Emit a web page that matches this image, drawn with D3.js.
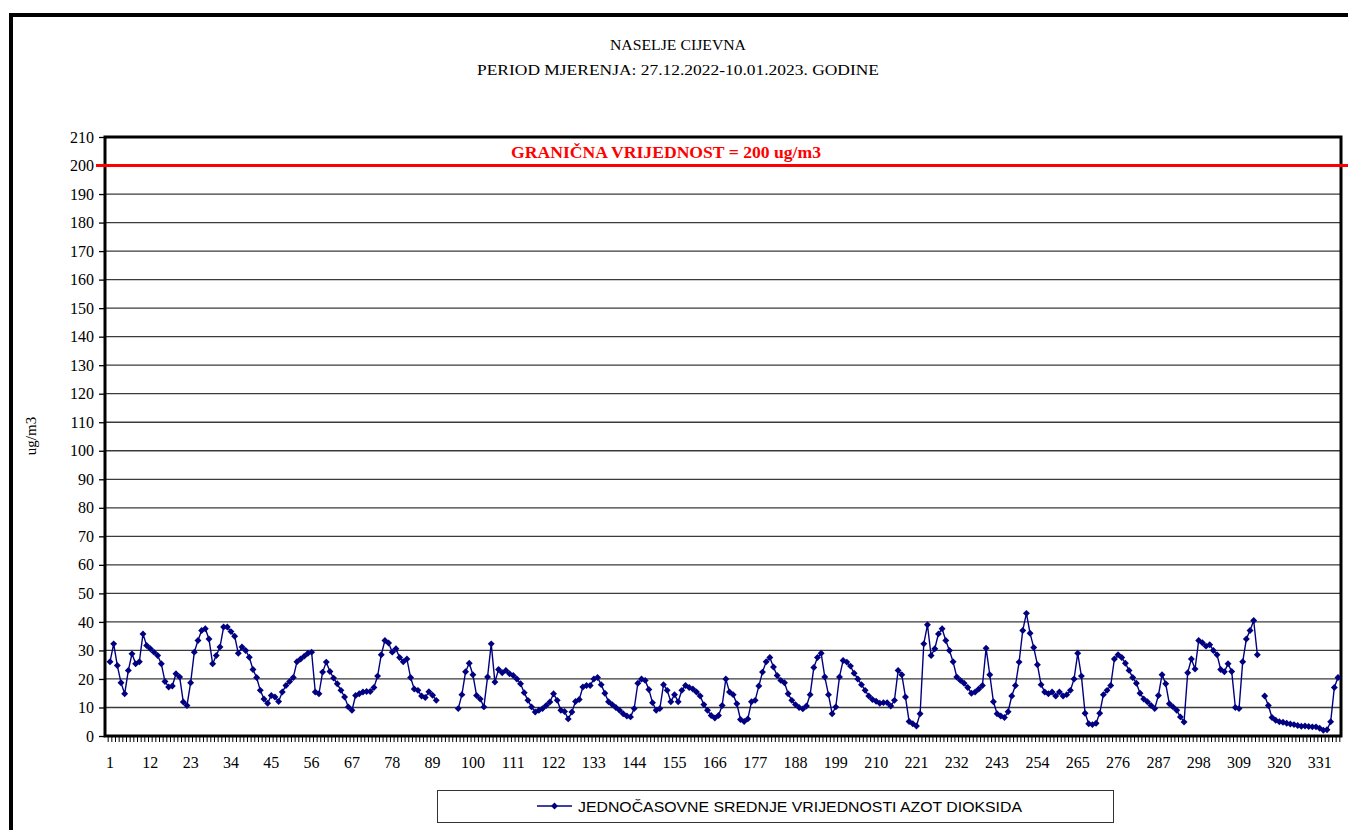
<!DOCTYPE html>
<html><head><meta charset="utf-8">
<script src="https://cdn.jsdelivr.net/npm/d3@7"></script>
<style>body{margin:0;background:#fff;} svg{display:block;}</style>
</head><body>
<svg id="c" width="1348" height="830"></svg>
<script>
// ---------- data ----------
const titleLines = ["NASELJE CIJEVNA", "PERIOD MJERENJA: 27.12.2022-10.01.2023. GODINE"];
const limitLabel = "GRANIČNA VRIJEDNOST = 200 ug/m3";
const limitValue = 200;
const yAxisTitle = "ug/m3";
const seriesName = "JEDNOČASOVNE SREDNJE VRIJEDNOSTI AZOT DIOKSIDA";
const yTickValues = [0,10,20,30,40,50,60,70,80,90,100,110,120,130,140,150,160,170,180,190,200,210];
const xTickLabels = [1,12,23,34,45,56,67,78,89,100,111,122,133,144,155,166,177,188,199,210,221,232,243,254,265,276,287,298,309,320,331];
const no2Values = [
 26,32.3,24.7,18.7,14.8,23,28.8,25.3,26,35.8,31.7,30.6,29.4,28.2,25.3,19.1,17.2,17.5,21.8,20.7,11.9,10.7,18.7,29.4,33.5,37,37.6,34,25.3,28.2,31.2,38.2,
 38.2,36.6,35,29,31.2,30,27.6,23.3,20.5,16,13,11.5,14.2,13.7,12.1,15.4,17.7,19.1,20.5,26,27,28,29,29.4,15.4,14.8,22.4,25.9,22.6,20.3,18.3,16,13.7,10.2,
 9,14.2,14.8,15.4,15.6,15.6,17,21,28.5,33.5,32.6,29.4,30.6,27.5,26,27,20.5,16.5,16,14,13.5,15.5,14.3,12.5,
 null,null,null,null,null,
 9.6,14.5,22.5,25.5,21.5,
 14.2,13,10.2,20.7,32.3,18.9,23.3,22.2,23,21.8,21.2,20,18.3,15.2,12.5,10.2,8.4,9,9.6,10.7,11.9,14.8,12.5,9,8.6,6,8.4,12.1,12.8,17.2,17.7,17.7,20,20.5,
 18,15,12,11,10,9,7.8,7,6.7,9.6,18.5,20,19.5,16.3,11.7,9,9.6,18,16,12,14.5,12,16,17.7,17,16.5,15.4,14,11,9,7.2,6.3,7.2,10.7,
 20,15.4,14.5,11.3,5.8,5.1,6,12,12.5,17.5,22.4,26,27.5,24.2,21.2,19.5,18.7,14.8,12.5,11,10,9.5,10.5,14.5,24,27.5,29,20.7,14.5,7.8,10.2,20.7,26.5,25.9,
 24.5,22,20,18,16,14,12.8,12.2,11.5,11.7,11.7,10.5,12.5,23,21.5,13.7,5.1,4.3,3.5,7.8,32.3,39,28.2,30.6,35.8,37.6,33.5,30,26,20.7,19.5,18.5,17,15,
 15.4,16.5,17.7,30.8,21.5,12,7.8,7,6.5,8.5,14,17.7,25.9,37,43,36,31,25,18,15.4,14.8,15.4,14,15.4,14,14.5,16,20,29,21,8,4.3,4,4.5,
 8,14.5,16,17.7,27,28.5,27.5,25.5,23,20.5,18.5,15,13,12,10.7,9.6,14.2,21.5,18.3,11.3,10.2,9,6.7,4.9,22.2,27,23.5,33.5,32.7,31.5,32,30,28.5,23.3,
 22.5,25.3,22.6,10,9.6,26,34,37,40.5,28.5,null,14,10.7,6.5,5.5,5,4.8,4.5,4.2,4,3.7,3.4,3.5,3.3,3.2,3.2,2.7,2,2.2,5,17,20.5
];
const hours = no2Values.map((v, i) => i + 1);

// ---------- layout ----------
const svg = d3.select("#c");
const plot = {left: 105, right: 1341, top: 137, bottom: 736};
const serif = "'Liberation Serif', 'DejaVu Serif', serif";
const navy = "#000080";

// outer frame (extends beyond the visible area on the right and bottom)
svg.append("rect").attr("x", 11).attr("y", 15).attr("width", 1400).attr("height", 900)
  .attr("fill", "none").attr("stroke", "#000").attr("stroke-width", 4);

const x = d3.scaleLinear().domain([1, hours.length]).range([110, 1338]);
const step = x(2) - x(1);
const y = d3.scaleLinear().domain([0, 210]).range([plot.bottom, plot.top]);

// titles
const titleWidths = [136, 402];
svg.append("g").selectAll("text").data(titleLines).join("text")
  .attr("x", 678).attr("y", (d, i) => 50 + i * 25)
  .attr("text-anchor", "middle").attr("font-family", serif).attr("font-size", 15)
  .attr("textLength", (d, i) => titleWidths[i]).attr("lengthAdjust", "spacingAndGlyphs")
  .attr("fill", "#000").text(d => d);

// gridlines
svg.append("g").selectAll("line").data(yTickValues.filter(v => v > 0 && v < 210 && v !== limitValue)).join("line")
  .attr("x1", plot.left).attr("x2", plot.right)
  .attr("y1", d => y(d)).attr("y2", d => y(d))
  .attr("stroke", "#3a3a3a").attr("stroke-width", 1.3);

// y axis
const yAxis = d3.axisLeft(y).tickValues(yTickValues).tickSize(6).tickPadding(5);
const gy = svg.append("g").attr("transform", `translate(${plot.left},0)`).call(yAxis);
gy.select(".domain").remove();
gy.selectAll(".tick line").attr("stroke", "#000").attr("stroke-width", 1.3);
gy.selectAll(".tick text").attr("font-family", serif).attr("font-size", 16).attr("fill", "#000");

// x axis: tick at every category boundary, labels every 11
const gx = svg.append("g").attr("transform", `translate(0,${plot.bottom})`);
const edges = hours.map(h => x(h) - step / 2).concat([x(hours.length) + step / 2])
  .filter(e => e >= plot.left && e <= plot.right);
gx.selectAll("line").data(edges).join("line")
  .attr("x1", d => d).attr("x2", d => d).attr("y1", 0).attr("y2", 6)
  .attr("stroke", "#000").attr("stroke-width", 1);
gx.selectAll("text").data(xTickLabels).join("text")
  .attr("x", d => x(d)).attr("y", 32)
  .attr("text-anchor", "middle").attr("font-family", serif).attr("font-size", 16)
  .attr("fill", "#000").text(d => d);

// plot border
svg.append("rect").attr("x", plot.left).attr("y", plot.top)
  .attr("width", plot.right - plot.left).attr("height", plot.bottom - plot.top)
  .attr("fill", "none").attr("stroke", "#000").attr("stroke-width", 3);

// limit line
svg.append("line").attr("x1", plot.left - 9).attr("x2", 1348)
  .attr("y1", y(limitValue)).attr("y2", y(limitValue))
  .attr("stroke", "#ff0000").attr("stroke-width", 3);
svg.append("text").attr("x", 666).attr("y", y(limitValue) - 8)
  .attr("text-anchor", "middle").attr("font-family", serif).attr("font-weight", "bold")
  .attr("font-size", 16).attr("textLength", 310).attr("lengthAdjust", "spacingAndGlyphs")
  .attr("fill", "#ff0000").text(limitLabel);

// y axis title
svg.append("text").attr("transform", `translate(36,436) rotate(-90)`)
  .attr("text-anchor", "middle").attr("font-family", serif).attr("font-size", 15)
  .attr("fill", "#000").text(yAxisTitle);

// series line
const line = d3.line().defined(d => d.v != null).x(d => x(d.h)).y(d => y(d.v));
const pts = hours.map((h, i) => ({h, v: no2Values[i]}));
svg.append("path").datum(pts).attr("d", line)
  .attr("fill", "none").attr("stroke", navy).attr("stroke-width", 1.4);
const diamond = d3.symbol().type(d3.symbolSquare).size(24);
svg.append("g").selectAll("path").data(pts.filter(d => d.v != null)).join("path")
  .attr("d", diamond)
  .attr("transform", d => `translate(${x(d.h)},${y(d.v)}) rotate(45)`)
  .attr("fill", navy);

// legend
const lg = svg.append("g");
lg.append("rect").attr("x", 437.5).attr("y", 790.5).attr("width", 676).attr("height", 32)
  .attr("fill", "#fff").attr("stroke", "#333").attr("stroke-width", 1);
lg.append("line").attr("x1", 537).attr("x2", 572).attr("y1", 806).attr("y2", 806)
  .attr("stroke", navy).attr("stroke-width", 1.4);
lg.append("path").attr("d", diamond).attr("transform", "translate(554.5,806) rotate(45)").attr("fill", navy);
lg.append("text").attr("x", 578).attr("y", 811.5)
  .attr("font-family", "'Liberation Sans Narrow', 'Liberation Sans', sans-serif").attr("font-size", 14)
  .attr("textLength", 444).attr("lengthAdjust", "spacingAndGlyphs")
  .attr("fill", "#000").text(seriesName);
</script>
</body></html>
